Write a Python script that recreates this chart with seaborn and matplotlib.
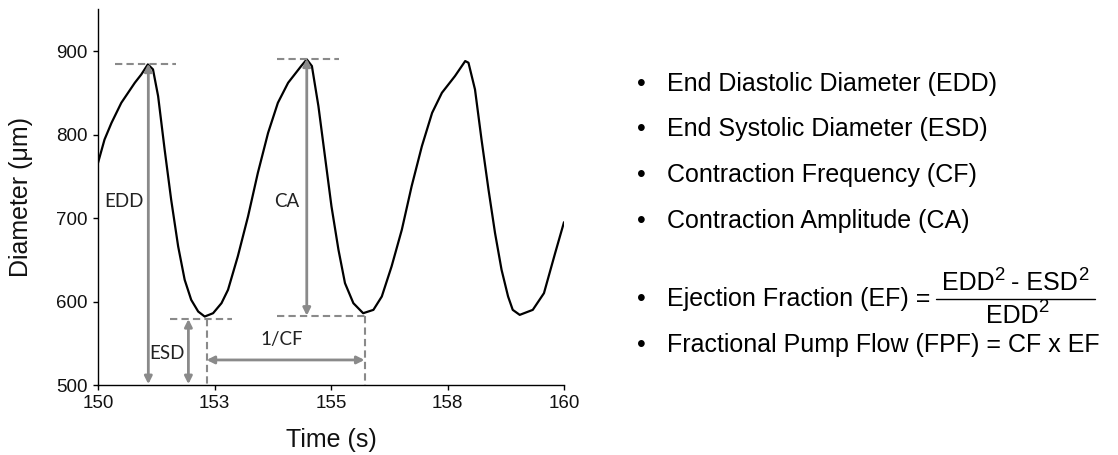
import numpy as np
import pandas as pd
import matplotlib
matplotlib.use("Agg")
import matplotlib.pyplot as plt
import seaborn as sns

# ---- data ----
time_s = [150.00, 150.14, 150.29, 150.50, 150.79, 150.93, 151.07, 151.18, 151.29, 151.43,
          151.57, 151.72, 151.86, 152.00, 152.15, 152.29, 152.47, 152.65, 152.79, 153.00,
          153.22, 153.43, 153.65, 153.86, 154.08, 154.36, 154.48, 154.59, 154.73, 154.87,
          155.01, 155.16, 155.30, 155.48, 155.69, 155.91, 156.09, 156.30, 156.52, 156.73,
          156.95, 157.17, 157.38, 157.66, 157.88, 157.95, 158.09, 158.23, 158.38, 158.52,
          158.66, 158.80, 158.90, 159.05, 159.33, 159.57, 159.81, 160.00]
diameter_um = [766, 794, 814, 838, 862, 872, 884, 878, 846, 782,
               722, 666, 626, 602, 588, 582, 586, 598, 614, 654,
               702, 754, 802, 838, 862, 882, 890, 882, 834, 774,
               714, 662, 622, 598, 586, 590, 606, 642, 686, 738,
               786, 826, 850, 870, 888, 886, 854, 794, 734, 682,
               638, 606, 590, 584, 590, 610, 658, 695]

x_ticks = [150, 152.5, 155, 157.5, 160]
x_tick_labels = ["150", "153", "155", "158", "160"]
y_ticks = [500, 600, 700, 800, 900]

# annotation values
edd_value, edd_time = 885, 151.08
ca_top, ca_bottom, ca_time = 891, 583, 154.48
esd_value, esd_time = 579, 151.94
cf_start, cf_end, cf_level = 152.33, 155.72, 530

bullets = ["End Diastolic Diameter (EDD)",
           "End Systolic Diameter (ESD)",
           "Contraction Frequency (CF)",
           "Contraction Amplitude (CA)"]
ef_label = "Ejection Fraction (EF) ="
ef_numerator = [("EDD", 0), ("2", 1), (" - ESD", 0), ("2", 1)]
ef_denominator = [("EDD", 0), ("2", 1)]
fpf_label = "Fractional Pump Flow (FPF) = CF x EF"

df = pd.DataFrame({"Time": time_s, "Diameter": diameter_um})

sns.set_theme(style="ticks")
plt.rcParams["font.family"] = ["Liberation Sans", "DejaVu Sans"]

W, H = 1118, 455
fig = plt.figure(figsize=(W / 100, H / 100), dpi=100)
AX_H = 385 - 9.3
ax = fig.add_axes([98 / W, 1 - 385 / H, 466 / W, AX_H / H])

sns.lineplot(data=df, x="Time", y="Diameter", ax=ax, color="black",
             linewidth=1.6, sort=False)

ax.set_xlim(150, 160)
ax.set_ylim(500, 950)
ax.set_xticks(x_ticks)
ax.set_xticklabels(x_tick_labels)
ax.set_yticks(y_ticks)
ax.tick_params(labelsize=13.5, length=3.5, width=1, color="black",
               labelcolor="#111111", direction="out", pad=4)
for s in ["top", "right"]:
    ax.spines[s].set_visible(False)
for s in ["left", "bottom"]:
    ax.spines[s].set_color("black")
    ax.spines[s].set_linewidth(1.0)
ax.set_xlabel("Time (s)", fontsize=18, color="#111111")
ax.set_ylabel("Diameter (\u03bcm)", fontsize=18, color="#111111")
ax.xaxis.set_label_coords(0.5, -(428 - 385) / AX_H, transform=ax.transAxes)
ax.yaxis.set_label_coords(-(98 - 33) / 466, 0.5, transform=ax.transAxes)

gray = "#8a8a8a"
dash = dict(color=gray, linestyle=(0, (3.5, 2)), linewidth=1.5)
arrow = dict(arrowstyle="<|-|>", color=gray, lw=2, mutation_scale=11,
             shrinkA=0, shrinkB=0)

# dashed reference lines
ax.plot([150.37, 151.67], [edd_value, edd_value], **dash)
ax.plot([153.84, 155.17], [ca_top, ca_top], **dash)
ax.plot([153.84, cf_end], [ca_bottom, ca_bottom], **dash)
ax.plot([151.54, 152.87], [esd_value, esd_value], **dash)
ax.plot([cf_start, cf_start], [esd_value, 500], **dash)
ax.plot([cf_end, cf_end], [ca_bottom, 500], **dash)

# arrows
ax.annotate("", xy=(edd_time, edd_value), xytext=(edd_time, 501), arrowprops=arrow)
ax.annotate("", xy=(ca_time, ca_top), xytext=(ca_time, ca_bottom), arrowprops=arrow)
ax.annotate("", xy=(esd_time, esd_value), xytext=(esd_time, 501), arrowprops=arrow)
ax.annotate("", xy=(cf_start, cf_level), xytext=(cf_end, cf_level), arrowprops=arrow)

lab = dict(fontsize=13.5, color="#222222", family=["Lato", "DejaVu Sans"])
ax.text(150.56, 720, "EDD", ha="center", va="center", **lab)
ax.text(154.06, 720, "CA", ha="center", va="center", **lab)
ax.text(151.49, 538, "ESD", ha="center", va="center", **lab)
ax.text(153.94, 554, "1/CF", ha="center", va="center", **lab)

# right-hand text
def fx(px):
    return px / W

def fy(py):
    return 1 - py / H

tsize = 18
sup_size = 13.4
sup_raise = 10.5
txt_color = "black"
bullet_x, text_x = 641, 667
line_base = [90.5, 136, 182, 228]
for b, y in zip(bullets, line_base):
    fig.text(fx(bullet_x), fy(y), "\u2022", fontsize=tsize, ha="center",
             va="baseline", color=txt_color)
    fig.text(fx(text_x), fy(y), b, fontsize=tsize, ha="left", va="baseline",
             color=txt_color)

ef_base = 306
fig.text(fx(bullet_x), fy(ef_base), "\u2022", fontsize=tsize, ha="center",
         va="baseline", color=txt_color)
fig.text(fx(text_x), fy(ef_base), ef_label, fontsize=tsize, ha="left",
         va="baseline", color=txt_color)

renderer = fig.canvas.get_renderer()

def draw_runs(center_px, base_px, runs):
    arts = []
    widths = []
    for txt, sup in runs:
        size = sup_size if sup else tsize
        t = fig.text(0, 0, txt, fontsize=size, ha="left", va="baseline",
                     color=txt_color)
        widths.append(t.get_window_extent(renderer).width)
        arts.append((t, sup))
    total = sum(widths)
    x = center_px - total / 2
    for (t, sup), w in zip(arts, widths):
        t.set_position((fx(x), fy(base_px - (sup_raise if sup else 0))))
        x += w

draw_runs(1015, 290, ef_numerator)
draw_runs(1017, 323, ef_denominator)
fig.add_artist(plt.Line2D([fx(936), fx(1095)], [fy(299), fy(299)], color="black",
                          linewidth=1.0, transform=fig.transFigure))

fpf_base = 352
fig.text(fx(bullet_x), fy(fpf_base), "\u2022", fontsize=tsize, ha="center",
         va="baseline", color=txt_color)
fig.text(fx(text_x), fy(fpf_base), fpf_label, fontsize=tsize, ha="left",
         va="baseline", color=txt_color)

fig.savefig("out.png", dpi=100)
